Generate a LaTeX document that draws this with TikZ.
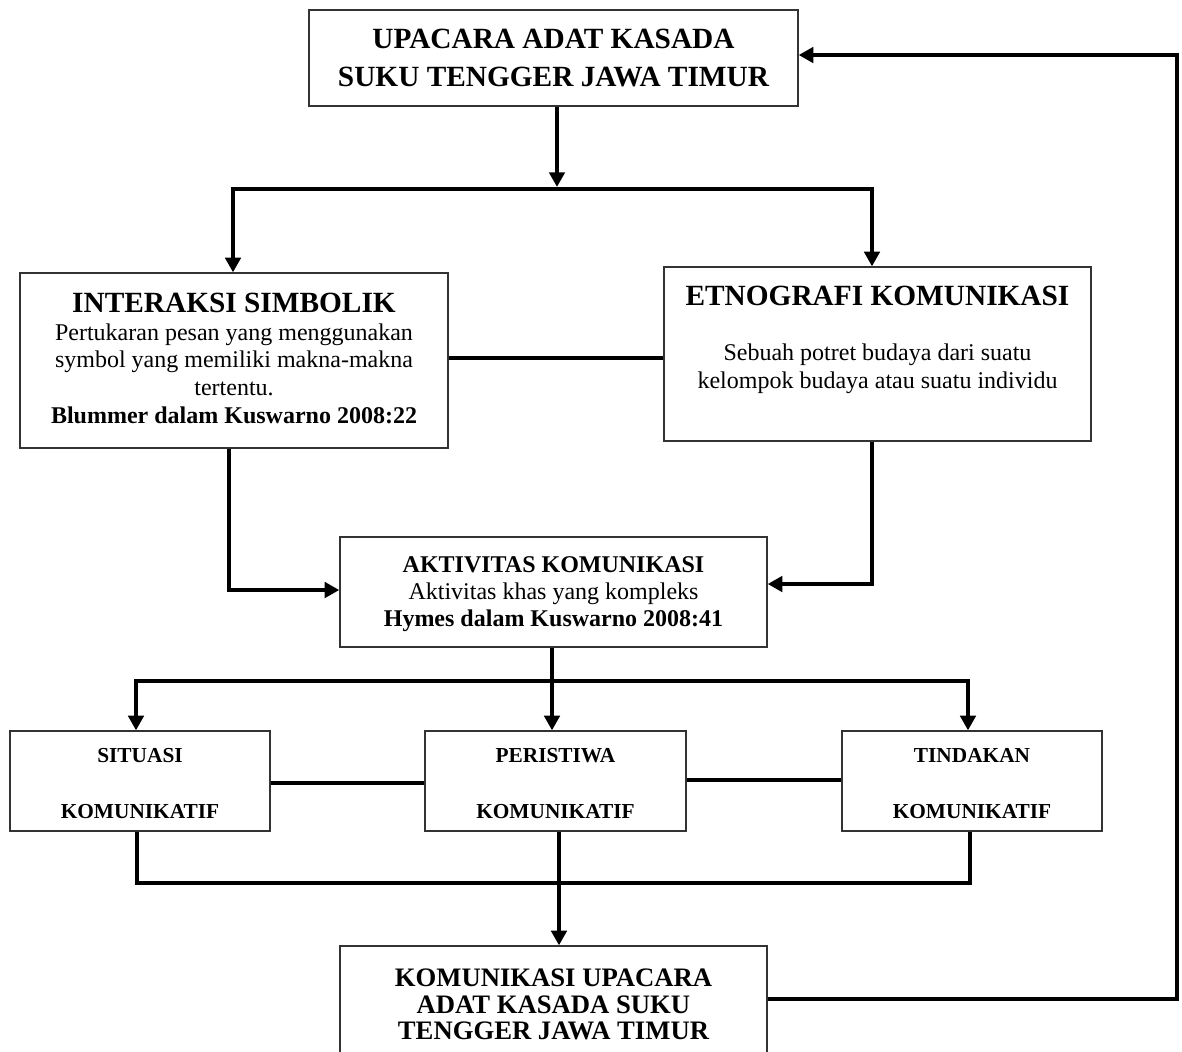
\documentclass[tikz,border=0pt]{standalone}
\usepackage{fontspec}
\setmainfont{Liberation Serif}
\usetikzlibrary{arrows.meta}
\begin{document}
\begin{tikzpicture}[x=0.75pt,y=-0.75pt,
  box/.style={draw=black!80, line width=1pt, rectangle, inner sep=0pt},
  conn/.style={line width=3pt, line join=miter},
  arr/.style={conn, -{Triangle[length=11pt,width=11.5pt]}},
  tl/.style={anchor=base, inner sep=0pt},
  fbig/.style={font=\fontsize{22pt}{26pt}\selectfont\bfseries},
  fmidb/.style={font=\fontsize{18pt}{21pt}\selectfont\bfseries},
  fmid/.style={font=\fontsize{18pt}{21pt}\selectfont},
  fsmall/.style={font=\fontsize{16pt}{19pt}\selectfont\bfseries},
  fbot/.style={font=\fontsize{20pt}{24pt}\selectfont\bfseries}]
\useasboundingbox (0,0) rectangle (1182,1051);
\clip (0,0) rectangle (1182,1051);

% boxes
\node[box, minimum width={489*0.75pt}, minimum height={96*0.75pt}] (top) at (553.5,58) {};
\node[box, minimum width={428*0.75pt}, minimum height={175*0.75pt}] (inter) at (234,360.5) {};
\node[box, minimum width={427*0.75pt}, minimum height={174*0.75pt}] (etno) at (877.5,354) {};
\node[box, minimum width={427*0.75pt}, minimum height={110*0.75pt}] (aktiv) at (553.5,592) {};
\node[box, minimum width={260*0.75pt}, minimum height={100*0.75pt}] (sit) at (140,781) {};
\node[box, minimum width={261*0.75pt}, minimum height={100*0.75pt}] (per) at (555.5,781) {};
\node[box, minimum width={260*0.75pt}, minimum height={100*0.75pt}] (tin) at (972,781) {};
\node[box, minimum width={427*0.75pt}, minimum height={154*0.75pt}] (bot) at (553.5,1023) {};

% texts
\node[tl,fbig] (top1) at (553.5,48) {UPACARA ADAT KASADA};
\node[tl,fbig] (top2) at (553.5,86) {SUKU TENGGER JAWA TIMUR};

\node[tl,fbig] (in1) at (234,312) {INTERAKSI SIMBOLIK};
\node[tl,fmid] (in2) at (234,340) {Pertukaran pesan yang menggunakan};
\node[tl,fmid] (in3) at (234,367.5) {symbol yang memiliki makna-makna};
\node[tl,fmid] (in4) at (234,395) {tertentu.};
\node[tl,fmidb] (in5) at (234,423) {Blummer dalam Kuswarno 2008:22};

\node[tl,fbig] (et1) at (877.5,305) {ETNOGRAFI KOMUNIKASI};
\node[tl,fmid] (et2) at (877.5,360) {Sebuah potret budaya dari suatu};
\node[tl,fmid] (et3) at (877.5,388) {kelompok budaya atau suatu individu};

\node[tl,fmidb] (ak1) at (553.5,572) {AKTIVITAS KOMUNIKASI};
\node[tl,fmid] (ak2) at (553.5,599) {Aktivitas khas yang kompleks};
\node[tl,fmidb] (ak3) at (553.5,626) {Hymes dalam Kuswarno 2008:41};

\node[tl,fsmall] (si1) at (140,762) {SITUASI};
\node[tl,fsmall] (si2) at (140,818) {KOMUNIKATIF};
\node[tl,fsmall] (pe1) at (555.5,762) {PERISTIWA};
\node[tl,fsmall] (pe2) at (555.5,818) {KOMUNIKATIF};
\node[tl,fsmall] (ti1) at (972,762) {TINDAKAN};
\node[tl,fsmall] (ti2) at (972,818) {KOMUNIKATIF};

\node[tl,fbot] (bo1) at (553.5,986) {KOMUNIKASI UPACARA};
\node[tl,fbot] (bo2) at (553.5,1013) {ADAT KASADA SUKU};
\node[tl,fbot] (bo3) at (553.5,1039) {TENGGER JAWA TIMUR};

% guide coordinates
\coordinate (s1) at (557,189);
\coordinate (xi) at (233,0);
\coordinate (xe) at (872,0);
\coordinate (xio) at (229,0);
\coordinate (ya1) at (0,590);
\coordinate (ya2) at (0,584);
\coordinate (y358) at (0,358);
\coordinate (s2) at (552,681);
\coordinate (xs) at (136,0);
\coordinate (xt) at (968,0);
\coordinate (y783) at (0,783);
\coordinate (y780) at (0,780);
\coordinate (xso) at (137,0);
\coordinate (xto) at (970,0);
\coordinate (xpo) at (559,0);
\coordinate (j3) at (559,883);
\coordinate (yb) at (0,999);
\coordinate (yt) at (0,55);
\coordinate (c1) at (1177,55);

% connectors
\draw[arr, shorten >=1.5pt] (top.south -| s1) -- (s1);
\draw[arr] (s1) -| (inter.north -| xi);
\draw[arr] (s1) -| (etno.north -| xe);
\draw[conn] (inter.east |- y358) -- (etno.west |- y358);
\draw[arr] (inter.south -| xio) |- (aktiv.west |- ya1);
\draw[arr] (etno.south -| xe) |- (aktiv.east |- ya2);
\draw[arr] (aktiv.south -| s2) -- (per.north -| s2);
\draw[arr] (s2) -| (sit.north -| xs);
\draw[arr] (s2) -| (tin.north -| xt);
\draw[conn] (sit.east |- y783) -- (per.west |- y783);
\draw[conn] (per.east |- y780) -- (tin.west |- y780);
\draw[conn] (sit.south -| xso) |- (j3) -| (tin.south -| xto);
\draw[arr] (per.south -| xpo) -- (bot.north -| xpo);
\draw[arr] (bot.east |- yb) -| (c1) -- (top.east |- yt);
\end{tikzpicture}
\end{document}
